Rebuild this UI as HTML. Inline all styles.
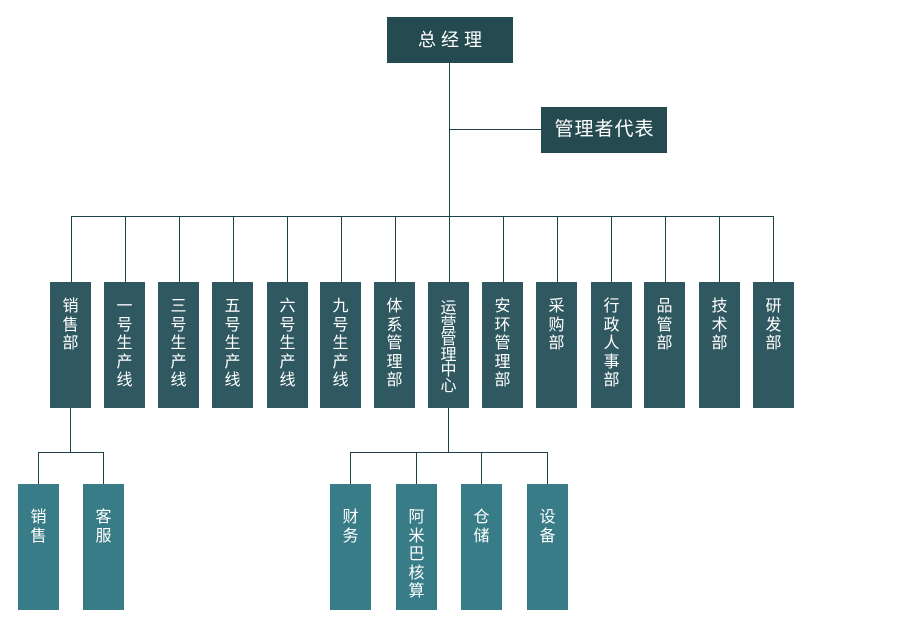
<!DOCTYPE html>
<html>
<head>
<meta charset="utf-8">
<style>
  html,body{margin:0;padding:0;background:#fff;}
  body{width:900px;height:626px;position:relative;overflow:hidden;
       font-family:"Liberation Sans","Noto Sans CJK SC",sans-serif;}
  .l{position:absolute;background:#1f4249;}
  .b{position:absolute;color:#fff;text-align:center;box-sizing:border-box;}
  .top{background:#254a50;height:46px;width:126px;line-height:46px;}
  .m{background:#2f5860;width:41px;height:126px;top:282px;font-size:16px;line-height:18.5px;padding-top:16px;}
  .s{background:#377c87;width:41px;height:126px;top:484px;font-size:16px;line-height:18.5px;padding-top:25px;}
</style>
</head>
<body>
<!-- top boxes -->
<div class="b top" style="left:387px;top:17px;font-size:18px;letter-spacing:5px;padding-left:5px;">总经理</div>
<div class="b top" style="left:541px;top:107px;font-size:19px;letter-spacing:1px;padding-left:1px;">管理者代表</div>

<!-- trunk lines -->
<div class="l" style="left:449px;top:63px;width:1px;height:219px;"></div>
<div class="l" style="left:449px;top:129px;width:92px;height:1px;"></div>
<div class="l" style="left:71px;top:216px;width:703px;height:1px;"></div>

<!-- vertical drops -->
<div class="l" style="left:71px;top:216px;width:1px;height:66px;"></div>
<div class="l" style="left:125px;top:216px;width:1px;height:66px;"></div>
<div class="l" style="left:179px;top:216px;width:1px;height:66px;"></div>
<div class="l" style="left:233px;top:216px;width:1px;height:66px;"></div>
<div class="l" style="left:287px;top:216px;width:1px;height:66px;"></div>
<div class="l" style="left:341px;top:216px;width:1px;height:66px;"></div>
<div class="l" style="left:395px;top:216px;width:1px;height:66px;"></div>
<div class="l" style="left:503px;top:216px;width:1px;height:66px;"></div>
<div class="l" style="left:557px;top:216px;width:1px;height:66px;"></div>
<div class="l" style="left:611px;top:216px;width:1px;height:66px;"></div>
<div class="l" style="left:665px;top:216px;width:1px;height:66px;"></div>
<div class="l" style="left:719px;top:216px;width:1px;height:66px;"></div>
<div class="l" style="left:773px;top:216px;width:1px;height:66px;"></div>

<!-- level 2 boxes -->
<div class="b m" style="left:50px;">销<br>售<br>部</div>
<div class="b m" style="left:104px;">一<br>号<br>生<br>产<br>线</div>
<div class="b m" style="left:158px;">三<br>号<br>生<br>产<br>线</div>
<div class="b m" style="left:212px;">五<br>号<br>生<br>产<br>线</div>
<div class="b m" style="left:267px;">六<br>号<br>生<br>产<br>线</div>
<div class="b m" style="left:320px;">九<br>号<br>生<br>产<br>线</div>
<div class="b m" style="left:374px;">体<br>系<br>管<br>理<br>部</div>
<div class="b m" style="left:428px;line-height:15.5px;padding-top:19px;">运<br>营<br>管<br>理<br>中<br>心</div>
<div class="b m" style="left:482px;">安<br>环<br>管<br>理<br>部</div>
<div class="b m" style="left:536px;">采<br>购<br>部</div>
<div class="b m" style="left:591px;">行<br>政<br>人<br>事<br>部</div>
<div class="b m" style="left:644px;">品<br>管<br>部</div>
<div class="b m" style="left:699px;">技<br>术<br>部</div>
<div class="b m" style="left:753px;">研<br>发<br>部</div>

<!-- sales subtree -->
<div class="l" style="left:70px;top:408px;width:1px;height:44px;"></div>
<div class="l" style="left:38px;top:452px;width:66px;height:1px;"></div>
<div class="l" style="left:38px;top:452px;width:1px;height:32px;"></div>
<div class="l" style="left:103px;top:452px;width:1px;height:32px;"></div>
<div class="b s" style="left:18px;">销<br>售</div>
<div class="b s" style="left:83px;">客<br>服</div>

<!-- ops subtree -->
<div class="l" style="left:448px;top:408px;width:1px;height:44px;"></div>
<div class="l" style="left:350px;top:452px;width:198px;height:1px;"></div>
<div class="l" style="left:350px;top:452px;width:1px;height:32px;"></div>
<div class="l" style="left:416px;top:452px;width:1px;height:32px;"></div>
<div class="l" style="left:481px;top:452px;width:1px;height:32px;"></div>
<div class="l" style="left:547px;top:452px;width:1px;height:32px;"></div>
<div class="b s" style="left:330px;">财<br>务</div>
<div class="b s" style="left:396px;">阿<br>米<br>巴<br>核<br>算</div>
<div class="b s" style="left:461px;">仓<br>储</div>
<div class="b s" style="left:527px;">设<br>备</div>
</body>
</html>
